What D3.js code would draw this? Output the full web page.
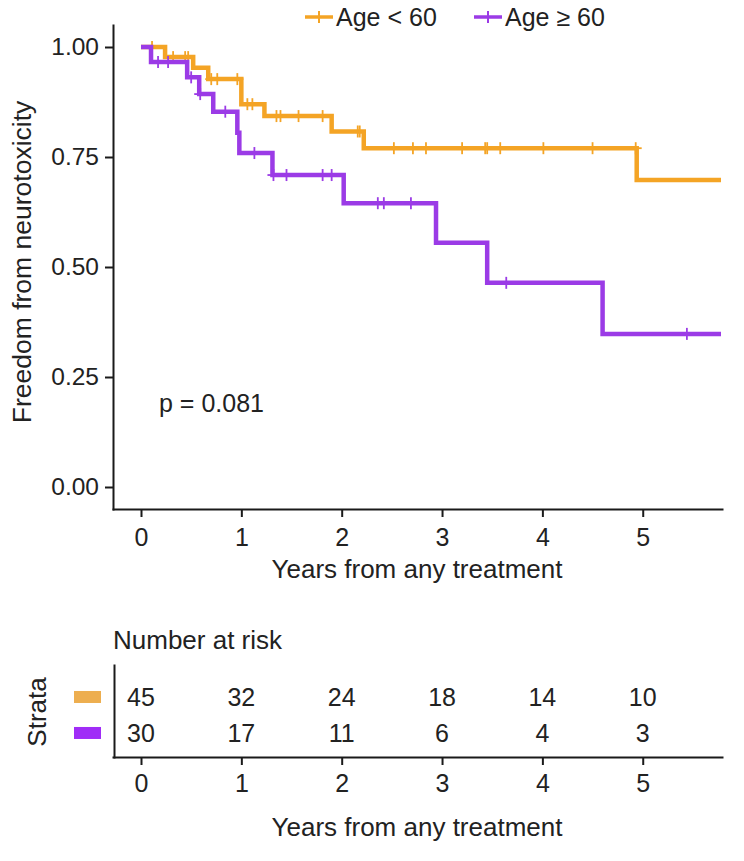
<!DOCTYPE html>
<html><head><meta charset="utf-8">
<script src="https://cdn.jsdelivr.net/npm/d3@7"></script>
<style>
body{margin:0;background:#fff}
svg{display:block}
text{font-family:"Liberation Sans",Arial,sans-serif;fill:#222}
</style>
</head><body>
<svg id="c" width="744" height="861"></svg>
<script>
// ---------- data ----------
const groups = ["Age < 60", "Age \u2265 60"];
const lineColors = ["#F4A425", "#9B3BE6"];
const tableColors = ["#EDAE4F", "#A02CF7"];
const yearTicks = [0, 1, 2, 3, 4, 5];
const survTicks = [0, 0.25, 0.5, 0.75, 1];
const maxTime = 5.78;

const youngTimes = [0, 0.24, 0.52, 0.67, 1.00, 1.23, 1.90, 2.22, 4.94];
const youngSurv  = [1.00, 0.977, 0.953, 0.927, 0.870, 0.843, 0.808, 0.770, 0.698];
const youngCensor = [0.11, 0.32, 0.44, 0.47, 0.70, 0.76, 0.96, 1.06, 1.11, 1.35, 1.39, 1.57, 1.81,
                     2.16, 2.18, 2.52, 2.71, 2.84, 3.20, 3.43, 3.45, 3.58, 4.01, 4.50, 4.93];

const oldTimes = [0, 0.10, 0.46, 0.58, 0.72, 0.96, 0.98, 1.31, 2.02, 2.94, 3.45, 4.60];
const oldSurv  = [1.00, 0.966, 0.931, 0.893, 0.853, 0.805, 0.759, 0.709, 0.645, 0.555, 0.464, 0.348];
const oldCensor = [0.17, 0.27, 0.50, 0.59, 0.84, 1.13, 1.32, 1.45, 1.81, 1.90, 2.36, 2.42, 2.69, 3.64, 5.44];

const atRiskYoung = [45, 32, 24, 18, 14, 10];
const atRiskOld   = [30, 17, 11, 6, 4, 3];

const pText = "p = 0.081";

// ---------- build ----------
const FONT = '"Liberation Sans",Arial,sans-serif';
const series = [
  {name: groups[0], color: lineColors[0], tcolor: tableColors[0], times: youngTimes, surv: youngSurv, censor: youngCensor, risk: atRiskYoung},
  {name: groups[1], color: lineColors[1], tcolor: tableColors[1], times: oldTimes, surv: oldSurv, censor: oldCensor, risk: atRiskOld}
];

const svg = d3.select("#c");
const x = d3.scaleLinear().domain([-0.279, 5.79]).range([113, 722]);
const y = d3.scaleLinear().domain([-0.05, 1.05]).range([509, 25]);

function styleAxis(g, fs) {
  g.selectAll("path.domain").attr("stroke", "#1a1a1a").attr("stroke-width", 2).attr("stroke-linecap", "square");
  g.selectAll(".tick line").attr("stroke", "#1a1a1a").attr("stroke-width", 2);
  g.selectAll(".tick text").attr("font-size", fs).attr("fill", "#222").style("font-family", FONT);
}

// axes
const ax = svg.append("g").attr("transform", "translate(0,509)")
  .call(d3.axisBottom(x).tickValues(yearTicks).tickFormat(d3.format("d")).tickSize(8).tickPadding(11).tickSizeOuter(0));
const ay = svg.append("g").attr("transform", "translate(113,0)")
  .call(d3.axisLeft(y).tickValues(survTicks).tickFormat(d3.format(".2f")).tickSize(8).tickPadding(6).tickSizeOuter(0));
styleAxis(ax, 25);
styleAxis(ay, 24.5);

// curves
const line = d3.line().x(d => x(d[0])).y(d => y(d[1])).curve(d3.curveStepAfter);
series.forEach(s => {
  const pts = s.times.map((t, i) => [t, s.surv[i]]);
  pts.push([maxTime, s.surv[s.surv.length - 1]]);
  svg.append("path").datum(pts).attr("d", line)
    .attr("fill", "none").attr("stroke", s.color).attr("stroke-width", 4.5);
  const level = t => { let v = s.surv[0]; s.times.forEach((tt, i) => { if (tt <= t) v = s.surv[i]; }); return v; };
  const g = svg.append("g");
  s.censor.forEach(t => {
    const cx = x(t), cy = y(level(t));
    g.append("line").attr("x1", cx).attr("x2", cx).attr("y1", cy - 6).attr("y2", cy + 6)
      .attr("stroke", s.color).attr("stroke-width", 1.8);
    g.append("line").attr("x1", cx - 6).attr("x2", cx + 6).attr("y1", cy).attr("y2", cy)
      .attr("stroke", s.color).attr("stroke-width", 1.8);
  });
});

// p value
svg.append("text").attr("x", 159).attr("y", 412).attr("font-size", 25).text(pText);

// axis titles
svg.append("text").attr("x", 417).attr("y", 578).attr("text-anchor", "middle").attr("font-size", 26)
  .text("Years from any treatment");
svg.append("text").attr("transform", "translate(31,262) rotate(-90)").attr("text-anchor", "middle")
  .attr("font-size", 26.5).text("Freedom from neurotoxicity");

// legend
const legX = [305, 474];
series.forEach((s, i) => {
  const g = svg.append("g").attr("transform", `translate(${legX[i]},17)`);
  g.append("line").attr("x1", 0).attr("x2", 28).attr("y1", 0).attr("y2", 0).attr("stroke", s.color).attr("stroke-width", 3.5);
  g.append("line").attr("x1", 14).attr("x2", 14).attr("y1", -6).attr("y2", 6).attr("stroke", s.color).attr("stroke-width", 2);
  g.append("text").attr("x", 31).attr("y", 9).attr("font-size", 25).text(s.name);
});

// ---------- risk table ----------
svg.append("text").attr("x", 113).attr("y", 649).attr("font-size", 26).text("Number at risk");
const row = d3.scalePoint().domain(groups).range([665, 757]).padding(0.778).align(0.571);

const tx = svg.append("g").attr("transform", "translate(0,757)")
  .call(d3.axisBottom(x).tickValues(yearTicks).tickFormat(d3.format("d")).tickSize(8).tickPadding(9).tickSizeOuter(0));
const ty = svg.append("g").attr("transform", "translate(114,0)")
  .call(d3.axisLeft(row).tickSize(0).tickFormat(""));
styleAxis(tx, 25);
styleAxis(ty, 25);

series.forEach(s => {
  svg.append("rect").attr("x", 74).attr("y", row(s.name) - 6).attr("width", 27).attr("height", 12).attr("fill", s.tcolor);
  svg.append("g").selectAll("text").data(s.risk).join("text")
    .attr("x", (d, i) => x(yearTicks[i])).attr("y", row(s.name)).attr("dy", "0.36em")
    .attr("text-anchor", "middle").attr("font-size", 25).text(d => d);
});
svg.append("text").attr("transform", "translate(46,712) rotate(-90)").attr("text-anchor", "middle")
  .attr("font-size", 26).text("Strata");
svg.append("text").attr("x", 417).attr("y", 836).attr("text-anchor", "middle").attr("font-size", 26)
  .text("Years from any treatment");
</script>
</body></html>
